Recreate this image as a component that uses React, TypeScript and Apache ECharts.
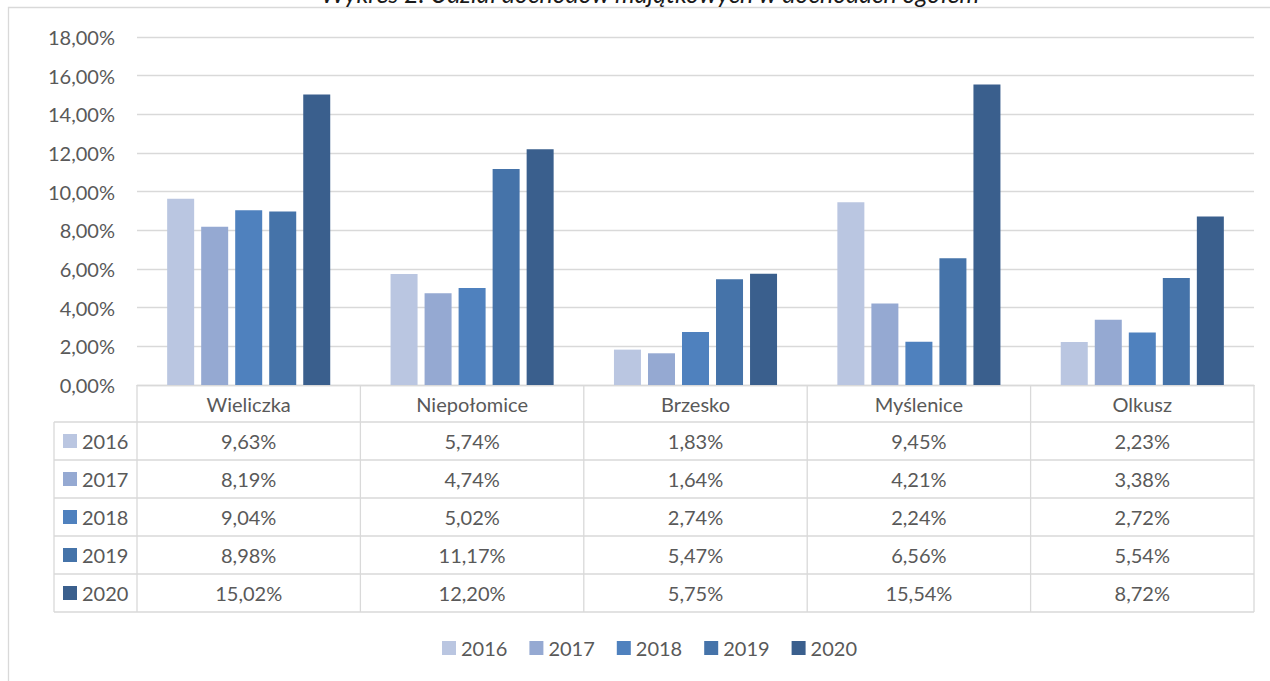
import React, { useEffect, useRef } from "react";
import * as echarts from "echarts";

const titleText = "Wykres 2. Udział dochodów majątkowych w dochodach ogółem";
const categories = ["Wieliczka", "Niepołomice", "Brzesko", "Myślenice", "Olkusz"];
const years = ["2016", "2017", "2018", "2019", "2020"];
const v2016 = [9.63, 5.74, 1.83, 9.45, 2.23];
const v2017 = [8.19, 4.74, 1.64, 4.21, 3.38];
const v2018 = [9.04, 5.02, 2.74, 2.24, 2.72];
const v2019 = [8.98, 11.17, 5.47, 6.56, 5.54];
const v2020 = [15.02, 12.2, 5.75, 15.54, 8.72];
const seriesValues = [v2016, v2017, v2018, v2019, v2020];
const colors = ["#BAC6E1", "#95A9D2", "#4F81BE", "#4573A9", "#3A5F8D"];
const yMin = 0;
const yMax = 18;
const yInterval = 2;

const W = 1270;
const H = 681;
const FONT = "Lato";
const TXT = "#595959";
const LINE = "#d9d9d9";

const fmt = (v: number) => v.toFixed(2).replace(".", ",") + "%";

export default function App() {
  const ref = useRef<HTMLDivElement>(null);
  useEffect(() => {
    if (!ref.current) return;
    const chart = echarts.init(ref.current, undefined, { renderer: "svg", width: W, height: H });

    const gridLeft = 137;
    const gridRight = 1254;
    const gridTop = 37;
    const gridBottom = 385;
    const colW = (gridRight - gridLeft) / categories.length;
    const headerH = 37;
    const rowH = 38;
    const tableLeft = 54;
    const firstRow = gridBottom + headerH;
    const tableBottom = firstRow + rowH * years.length;

    const graphics: any[] = [];
    graphics.push({
      type: "rect",
      shape: { x: 8.5, y: 7.5, width: 1300, height: 700 },
      style: { fill: "none", stroke: LINE, lineWidth: 1.3 },
      silent: true,
      z: -1,
    });
    graphics.push({
      type: "text",
      x: 650,
      y: -7,
      style: {
        text: titleText,
        font: `italic 25px ${FONT}`,
        fill: "#1a1a1a",
        align: "center",
        verticalAlign: "middle",
      },
    });
    for (let i = 0; i <= years.length; i++) {
      const y = firstRow + i * rowH;
      graphics.push({
        type: "line",
        shape: { x1: tableLeft, y1: y, x2: gridRight, y2: y },
        style: { stroke: LINE, lineWidth: 1.3 },
      });
    }
    graphics.push({
      type: "line",
      shape: { x1: tableLeft, y1: firstRow, x2: tableLeft, y2: tableBottom },
      style: { stroke: LINE, lineWidth: 1.3 },
    });
    for (let c = 0; c <= categories.length; c++) {
      const x = gridLeft + c * colW;
      graphics.push({
        type: "line",
        shape: { x1: x, y1: gridBottom, x2: x, y2: tableBottom },
        style: { stroke: LINE, lineWidth: 1.3 },
      });
    }
    years.forEach((yr, r) => {
      const cy = firstRow + r * rowH + rowH / 2;
      graphics.push({
        type: "rect",
        shape: { x: 63, y: cy - 7, width: 14, height: 14 },
        style: { fill: colors[r] },
      });
      graphics.push({
        type: "text",
        x: 82,
        y: cy,
        style: { text: yr, font: `20px ${FONT}`, fill: TXT, align: "left", verticalAlign: "middle" },
      });
      seriesValues[r].forEach((v, c) => {
        graphics.push({
          type: "text",
          x: gridLeft + c * colW + colW / 2,
          y: cy,
          style: { text: fmt(v), font: `20px ${FONT}`, fill: TXT, align: "center", verticalAlign: "middle" },
        });
      });
    });

    chart.setOption({
      animation: false,
      textStyle: { fontFamily: FONT },
      grid: { left: gridLeft, right: W - gridRight, top: gridTop, bottom: H - gridBottom, containLabel: false },
      legend: {
        data: years,
        left: 442,
        top: 638,
        padding: 0,
        itemWidth: 14,
        itemHeight: 14,
        itemGap: 22,
        icon: "rect",
        textStyle: { fontSize: 20, color: TXT, fontFamily: FONT },
      },
      xAxis: {
        type: "category",
        data: categories,
        axisLine: { show: true, lineStyle: { color: LINE, width: 1.3 } },
        axisTick: { show: false },
        axisLabel: { fontSize: 20, color: TXT, margin: 19, verticalAlign: "middle", fontFamily: FONT },
      },
      yAxis: {
        type: "value",
        min: yMin,
        max: yMax,
        interval: yInterval,
        axisLine: { show: false },
        axisTick: { show: false },
        splitLine: { lineStyle: { color: LINE, width: 1.3 } },
        axisLabel: { fontSize: 20, color: TXT, margin: 22, formatter: (v: number) => fmt(v), fontFamily: FONT },
      },
      series: years.map((yr, i) => ({
        name: yr,
        type: "bar",
        data: seriesValues[i],
        barWidth: 27,
        barGap: "26%",
        itemStyle: { color: colors[i] },
      })),
      graphic: graphics,
    });
    return () => chart.dispose();
  }, []);
  return (
    <div
      ref={ref}
      style={{ position: "fixed", left: 0, top: 0, width: W, height: H, background: "#fff" }}
    />
  );
}
